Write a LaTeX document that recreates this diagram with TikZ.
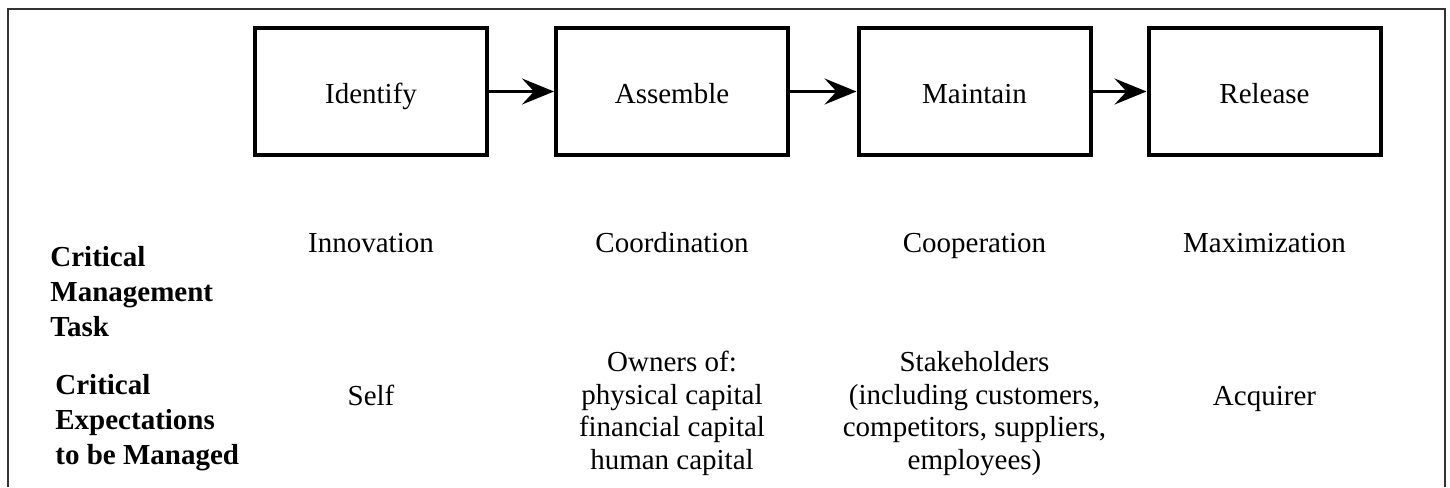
\documentclass[tikz,border=0pt]{standalone}
\usepackage{fontspec}
\setmainfont{Liberation Serif}
\usetikzlibrary{arrows.meta}
\begin{document}
\begin{tikzpicture}[x=0.5pt,y=-0.5pt,line join=miter]

	\def \boxrow{91.5}
	\def \taskrow{252}
	\def \expectrow{405}
	\def \listrow{469}
	\tikzstyle{s-node}=[draw=black,line width=2pt,minimum width=116pt,minimum height=63.5pt,inner sep=0pt,text height=11.5pt,text depth=0pt,font=\fontsize{14.5}{16}\selectfont]
	\tikzstyle{c-node}=[inner sep=0pt,anchor=base,align=center,font=\fontsize{14.5}{16.2}\selectfont]
	\tikzstyle{annot}=[inner sep=0pt,anchor=base west,align=left,font=\fontsize{14.5}{17.5}\selectfont\bfseries]
	\tikzstyle{s-arrow}=[line width=1.7pt,-{Stealth[length=16pt,width=13pt,inset=6pt]}]
	\useasboundingbox (0,0) rectangle (1450,487);

	% frame
	\draw[draw=black!80,line width=1pt] (8,487) -- (8,9) -- (1445,9) -- (1445,487);

	% stages
	\node[s-node] 	(s0)	at (371,\boxrow)		{Identify};
	\node[s-node] 	(s1)	at (672,\boxrow)		{Assemble};
	\node[s-node] 	(s2)	at (974.5,\boxrow)	{Maintain};
	\node[s-node] 	(s3)	at (1264.5,\boxrow)	{Release};
	\draw[s-arrow] (s0) -- (s1);
	\draw[s-arrow] (s1) -- (s2);
	\draw[s-arrow] (s2) -- (s3);

	% labels
	\node[annot] (tasklabel) at (50,336) {Critical\\Management\\Task};
	\node[annot] (expectlabel) at (55,464) {Critical\\Expectations\\to be Managed};

	% management tasks
	\node[c-node] 	(t0)	at (371,\taskrow)		{Innovation};
	\node[c-node] 	(t1)	at (672,\taskrow)		{Coordination};
	\node[c-node] 	(t2)	at (974.5,\taskrow)	{Cooperation};
	\node[c-node] 	(t3)	at (1264.5,\taskrow)	{Maximization};

	% expectations
	\node[c-node] 	(e0)	at (371,\expectrow)		{Self};
	\node[c-node] 	(e1)	at (672,\listrow)		{Owners of:\\physical capital\\financial capital\\human capital};
	\node[c-node] 	(e2)	at (974.5,\listrow)	{Stakeholders\\(including customers,\\competitors, suppliers,\\employees)};
	\node[c-node] 	(e3)	at (1264.5,\expectrow)	{Acquirer};
\end{tikzpicture}
\end{document}
